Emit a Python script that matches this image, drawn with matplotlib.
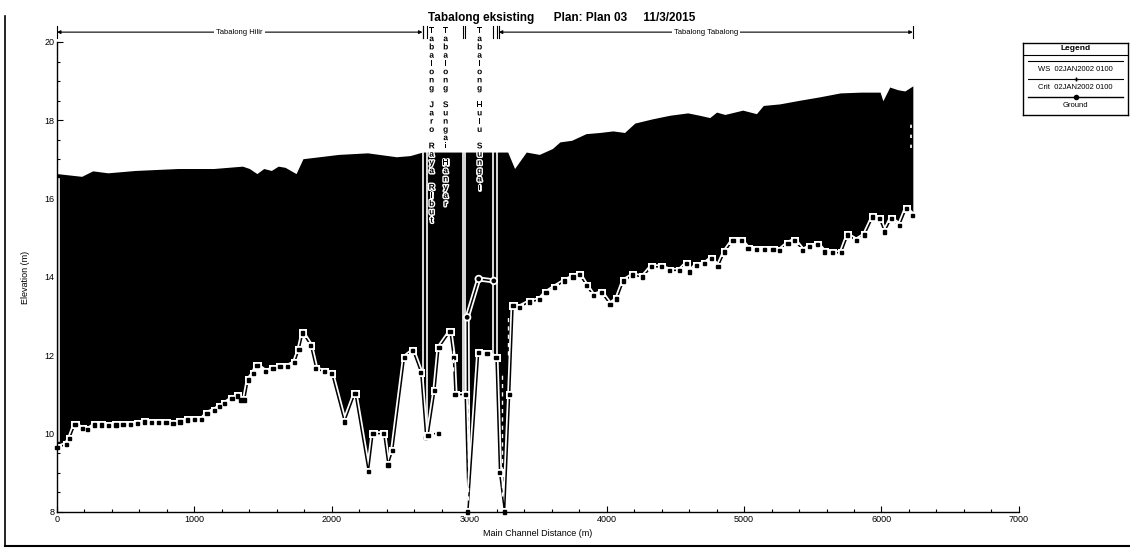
import matplotlib
matplotlib.use("Agg")
import matplotlib.pyplot as plt
import matplotlib.patheffects as pe
from matplotlib.lines import Line2D
from matplotlib.ticker import MultipleLocator

plt.rcParams['font.family'] = ['Liberation Sans', 'DejaVu Sans']

TITLE = "Tabalong eksisting      Plan: Plan 03     11/3/2015"

# water surface (top of the black fill)
ws_x = [0, 180, 260, 370, 570, 880, 1140, 1350, 1400, 1455, 1505, 1560, 1610,
        1660, 1740, 1790, 2050, 2260, 2470, 2570, 2660, 3280, 3330, 3415, 3510,
        3605, 3660, 3745, 3850, 3950, 4045, 4130, 4205, 4335, 4460, 4590, 4675,
        4750, 4800, 4860, 4990, 5090, 5140, 5260, 5400, 5550, 5700, 5850, 5990,
        6010, 6060, 6120, 6170, 6228]
ws_y = [16.64, 16.57, 16.71, 16.66, 16.72, 16.77, 16.77, 16.83, 16.77, 16.64,
        16.77, 16.72, 16.83, 16.8, 16.64, 17.02, 17.13, 17.17, 17.07, 17.1, 17.19,
        17.19, 16.77, 17.19, 17.13, 17.28, 17.45, 17.49, 17.66, 17.69, 17.73,
        17.69, 17.93, 18.04, 18.13, 18.19, 18.13, 18.07, 18.21, 18.15, 18.26,
        18.17, 18.38, 18.42, 18.51, 18.6, 18.7, 18.72, 18.72, 18.5, 18.85, 18.78,
        18.75, 18.88]

# ground, Tabalong Hilir
hilir_x = [0, 67, 92, 131, 183, 222, 274, 326, 378, 430, 481, 533, 585, 637, 689,
           741, 793, 845, 896, 949, 1001, 1053, 1092, 1144, 1183, 1222, 1274, 1313,
           1339, 1365, 1391, 1430, 1455, 1520, 1572, 1623, 1676, 1728, 1762, 1789,
           1845, 1884, 1947, 1999, 2092, 2169, 2266, 2300, 2378, 2409, 2443, 2529,
           2590, 2647, 2684, 2713, 2775]
hilir_y = [9.64, 9.73, 9.88, 10.24, 10.13, 10.1, 10.22, 10.22, 10.2, 10.22, 10.23,
           10.23, 10.26, 10.3, 10.28, 10.28, 10.28, 10.25, 10.3, 10.35, 10.37,
           10.36, 10.52, 10.6, 10.69, 10.77, 10.9, 10.96, 10.86, 10.86, 11.37,
           11.54, 11.75, 11.58, 11.66, 11.71, 11.72, 11.81, 12.15, 12.57, 12.26,
           11.66, 11.58, 11.54, 10.3, 11.03, 9.03, 10.0, 10.0, 9.2, 9.58, 11.95,
           12.12, 11.57, 9.91, 10.0, 10.0]

# ground, Tabalong Sungai
sungai_x = [2700, 2750, 2780, 2860, 2885, 2897, 2971, 2995]
sungai_y = [9.95, 11.1, 12.2, 12.6, 11.95, 11.0, 11.0, 8.0]

# ground, Tabalong Tabalong (upstream)
tab_x = [2990, 3069, 3130, 3195, 3221, 3257, 3294, 3319, 3363, 3436, 3510, 3559,
         3620, 3694, 3755, 3804, 3853, 3902, 3963, 4025, 4074, 4123, 4190, 4262,
         4325, 4397, 4458, 4531, 4580, 4604, 4652, 4713, 4761, 4810, 4858, 4919,
         4979, 5028, 5088, 5149, 5210, 5258, 5319, 5367, 5428, 5476, 5537, 5585,
         5646, 5707, 5755, 5816, 5876, 5937, 5985, 6022, 6070, 6131, 6180, 6228]
tab_y = [8.0, 12.08, 12.05, 11.95, 9.0, 8.0, 11.0, 13.27, 13.23, 13.36, 13.42,
         13.6, 13.74, 13.9, 14.0, 14.06, 13.78, 13.53, 13.6, 13.3, 13.44, 13.9,
         14.05, 14.0, 14.26, 14.26, 14.17, 14.17, 14.34, 14.13, 14.3, 14.34, 14.47,
         14.26, 14.64, 14.94, 14.94, 14.73, 14.71, 14.71, 14.71, 14.68, 14.86,
         14.94, 14.68, 14.77, 14.83, 14.64, 14.62, 14.62, 15.07, 14.94, 15.07,
         15.53, 15.49, 15.15, 15.49, 15.32, 15.75, 15.58]

# crit line of the short Hulu reach
crit_x = [2990, 2985, 3069, 3179]
crit_y = [8.0, 12.97, 13.95, 13.9]

# reach boundaries (pairs of white lines) and how far down they reach
junc_x = [2660, 2690, 2952, 2972, 3174, 3200]
junc_bot = [9.95, 9.91, 11.0, 11.0, 12.0, 12.0]

reaches = [("Tabalong Hilir", 0, 2660), ("Tabalong Tabalong", 3215, 6228)]
side_names = [("Tabalong Jaro Raya Ribut", 2727), ("Tabalong Sungai Hanyar", 2829),
              ("Tabalong Hulu Sungai", 3076)]

fig = plt.figure(figsize=(11.3, 5.49), dpi=100)
ax = fig.add_axes([0.0504, 0.0674, 0.8513, 0.8561])
ax.set_axisbelow(False)

ax.fill_between(ws_x, ws_y, 7, color="black", lw=0, zorder=1)
for gx, gy in [(hilir_x, hilir_y), (sungai_x, sungai_y), (tab_x, tab_y)]:
    ax.fill_between(gx, gy, 7, facecolor="white", edgecolor="white", lw=1.2,
                    zorder=2)

halo = [pe.Stroke(linewidth=3.6, foreground="white"), pe.Normal()]
for xx, bot in zip(junc_x, junc_bot):
    ax.plot([xx, xx], [17.19, bot], color="white", lw=1.2, zorder=3)
ax.plot([15, 15], [9.8, 16.5], color="white", lw=1.2, zorder=3)
ax.plot([6212, 6212], [17.3, 17.9], color="white", lw=1.2, ls=(0, (2, 4)), zorder=3)
for xx, y0, y1 in [(2990, 8.3, 10.8), (3235, 8.4, 11.5), (3280, 12.0, 13.0),
                   (2885, 11.6, 12.2)]:
    ax.plot([xx, xx], [y0, y1], color="white", lw=1.0, ls=(0, (3, 3)), zorder=5)

ax.plot(crit_x, crit_y, color="black", lw=1.1, marker="o", ms=2.4,
        path_effects=halo, zorder=4)
for gx, gy in [(hilir_x, hilir_y), (sungai_x, sungai_y), (tab_x, tab_y)]:
    ax.plot(gx, gy, color="black", lw=1.1, marker="s", ms=2.3,
            path_effects=halo, zorder=4, clip_on=False)

ax.set_xlim(0, 7000)
ax.set_ylim(8, 20)
ax.xaxis.set_major_locator(MultipleLocator(1000))
ax.xaxis.set_minor_locator(MultipleLocator(200))
ax.yaxis.set_major_locator(MultipleLocator(2))
ax.yaxis.set_minor_locator(MultipleLocator(0.5))
ax.tick_params(which="both", direction="in", labelsize=6.5, width=0.8, pad=2)
ax.tick_params(which="major", length=4)
ax.tick_params(which="minor", length=2.5)
for s in ["top", "right"]:
    ax.spines[s].set_visible(False)
for s in ["left", "bottom"]:
    ax.spines[s].set_linewidth(1.0)
    ax.spines[s].set_zorder(6)
ax.set_xlabel("Main Channel Distance (m)", fontsize=6.5, labelpad=4)
ax.set_ylabel("Elevation (m)", fontsize=6.5, labelpad=10)

fig.text(0.497, 0.967, TITLE, ha="center", va="center", fontsize=8.5,
         fontweight="bold")

# reach labels along the top
for name, x0, x1 in reaches:
    ax.annotate("", xy=(x0, 1.021), xytext=(x1, 1.021),
                xycoords=("data", "axes fraction"),
                textcoords=("data", "axes fraction"),
                arrowprops=dict(arrowstyle="<|-|>", lw=0.8, color="black",
                                mutation_scale=5, shrinkA=0, shrinkB=0))
    for xe in (x0, x1):
        ax.plot([xe, xe], [1.008, 1.034], color="black", lw=0.8,
                transform=ax.get_xaxis_transform(), clip_on=False)
    ax.text((x0 + x1) / 2, 1.021, name, transform=ax.get_xaxis_transform(),
            ha="center", va="center", fontsize=5.5,
            bbox=dict(facecolor="white", edgecolor="none", pad=1.5))
for xe in junc_x:
    ax.plot([xe, xe], [1.008, 1.034], color="black", lw=0.8,
            transform=ax.get_xaxis_transform(), clip_on=False)
for name, xx in side_names:
    ax.text(xx, 1.03, "\n".join(name), transform=ax.get_xaxis_transform(),
            ha="center", va="top", fontsize=6, linespacing=1.25, zorder=6,
            fontweight="bold",
            path_effects=[pe.Stroke(linewidth=2, foreground="white"), pe.Normal()])

# legend box
lax = fig.add_axes([1023 / 1130, 1 - 115 / 549, 105 / 1130, 72 / 549])
lax.set_xlim(0, 1)
lax.set_ylim(0, 72)
lax.set_xticks([])
lax.set_yticks([])
for s in lax.spines.values():
    s.set_linewidth(1.0)
lax.text(0.5, 66, "Legend", ha="center", va="center", fontsize=6, fontweight="bold")
lax.plot([0, 1], [60, 60], color="black", lw=0.8)
lax.plot([0.05, 0.95], [54, 54], color="black", lw=0.8)
lax.text(0.5, 45, "WS  02JAN2002 0100", ha="center", va="center", fontsize=5.5)
lax.add_line(Line2D([0.05, 0.5, 0.95], [36, 36, 36], color="black", lw=0.8,
                    marker="+", ms=3, markevery=[1]))
lax.text(0.5, 27, "Crit  02JAN2002 0100", ha="center", va="center", fontsize=5.5)
lax.add_line(Line2D([0.05, 0.5, 0.95], [18, 18, 18], color="black", lw=1.0,
                    marker="o", ms=3, markevery=[1]))
lax.text(0.5, 9, "Ground", ha="center", va="center", fontsize=5.5)

# scan frame
fig.add_artist(Line2D([0.004, 0.004], [0.006, 0.97], color="black", lw=1.2))
fig.add_artist(Line2D([0.004, 1.0], [0.006, 0.006], color="black", lw=1.5))

fig.savefig("out.png", dpi=100)
